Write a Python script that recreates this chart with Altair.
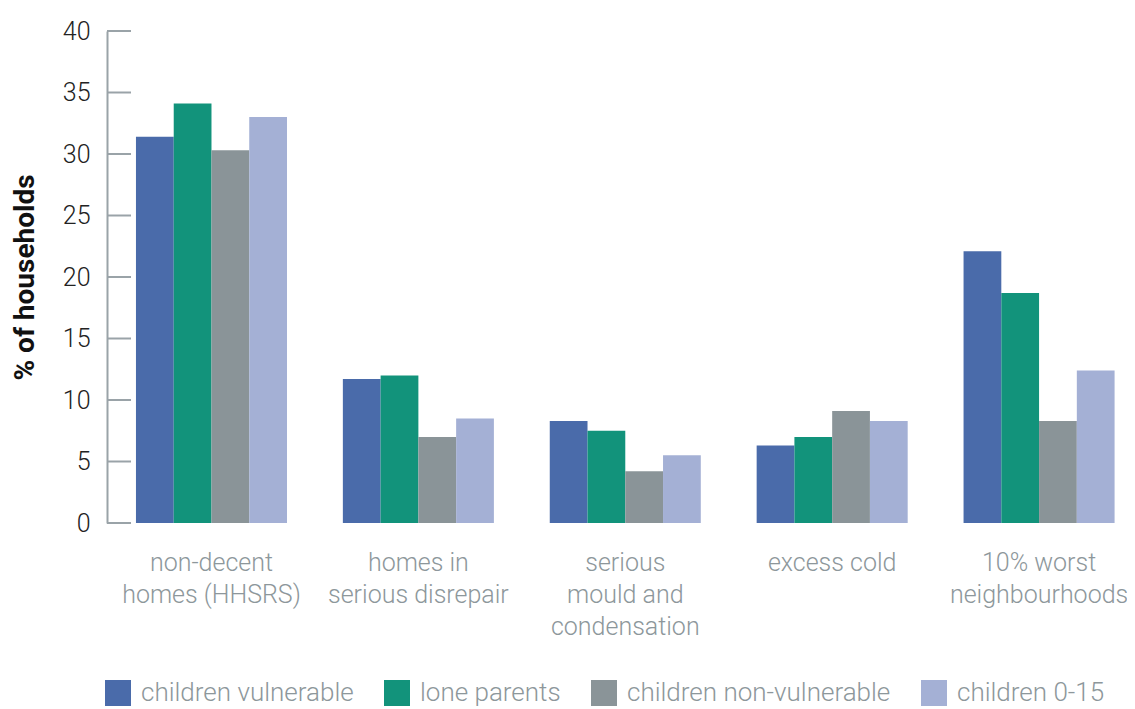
import altair as alt
import pandas as pd

categories = [
    "non-decent|homes (HHSRS)",
    "homes in|serious disrepair",
    "serious|mould and|condensation",
    "excess cold",
    "10% worst|neighbourhoods",
]
series = ["children vulnerable", "lone parents", "children non-vulnerable", "children 0-15"]
children_vulnerable = [31.4, 11.7, 8.3, 6.3, 22.1]
lone_parents = [34.1, 12.0, 7.5, 7.0, 18.7]
children_non_vulnerable = [30.3, 7.0, 4.2, 9.1, 8.3]
children_0_15 = [33.0, 8.5, 5.5, 8.3, 12.4]
colors = ["#4a6baa", "#12937b", "#8a9498", "#a4b0d5"]
y_ticks = [0, 5, 10, 15, 20, 25, 30, 35, 40]

FONT = "Roboto"
LW = 300

rows = []
for s, vals in zip(series, [children_vulnerable, lone_parents, children_non_vulnerable, children_0_15]):
    for c, v in zip(categories, vals):
        rows.append({"category": c, "series": s, "value": v})
df = pd.DataFrame(rows)
tick_df = pd.DataFrame({"t": y_ticks})

yscale = alt.Scale(domain=[0, 40], nice=False, zero=True)

yaxis = alt.Axis(
    title="% of households",
    titleFont=FONT,
    titleFontSize=28,
    titleFontWeight="bold",
    titleColor="#111111",
    titleX=-82,
    titleY=246,
    titleAngle=-90,
    titleAlign="center",
    titleBaseline="middle",
    values=y_ticks,
    ticks=False,
    grid=False,
    domainColor="#9aa3a8",
    domainWidth=2,
    labelFont=FONT,
    labelFontWeight=LW,
    labelFontSize=25,
    labelColor="#222222",
    labelPadding=17,
)

bars = alt.Chart(df).mark_bar().encode(
    x=alt.X(
        "category:N",
        sort=categories,
        scale=alt.Scale(paddingInner=0.27, paddingOuter=0.1, align=0.7),
        axis=alt.Axis(
            title=None,
            domain=False,
            ticks=False,
            labelAngle=0,
            labelExpr="split(datum.label, '|')",
            labelFont=FONT,
            labelFontWeight=LW,
            labelFontSize=25,
            labelColor="#8d979b",
            labelLineHeight=32,
            labelPadding=27,
            labelLimit=0,
        ),
    ),
    xOffset=alt.XOffset("series:N", sort=series, scale=alt.Scale(paddingInner=0, paddingOuter=0)),
    y=alt.Y("value:Q", scale=yscale, axis=yaxis),
    color=alt.Color(
        "series:N",
        sort=series,
        scale=alt.Scale(domain=series, range=colors),
        legend=alt.Legend(
            title=None,
            orient="none",
            legendX=-2,
            legendY=649,
            direction="horizontal",
            columns=4,
            symbolType="square",
            symbolSize=676,
            symbolStrokeWidth=0,
            labelFont=FONT,
            labelFontWeight=LW,
            labelFontSize=26,
            labelColor="#8d979b",
            labelOffset=10,
            labelLimit=0,
            columnPadding=30,
        ),
    ),
)

ticks = alt.Chart(tick_df).mark_rule(color="#9aa3a8", strokeWidth=2).encode(
    y=alt.Y("t:Q", scale=yscale, axis=yaxis),
    x=alt.value(0),
    x2=alt.value(24),
)

chart = alt.layer(bars, ticks).properties(
    width=1020,
    height=492,
    autosize=alt.AutoSizeParams(type="none"),
    padding={"left": 99, "top": 23, "right": 0, "bottom": 186},
).configure_view(stroke=None)

chart.save("out.html", embed_options={"renderer": "svg", "actions": False})
